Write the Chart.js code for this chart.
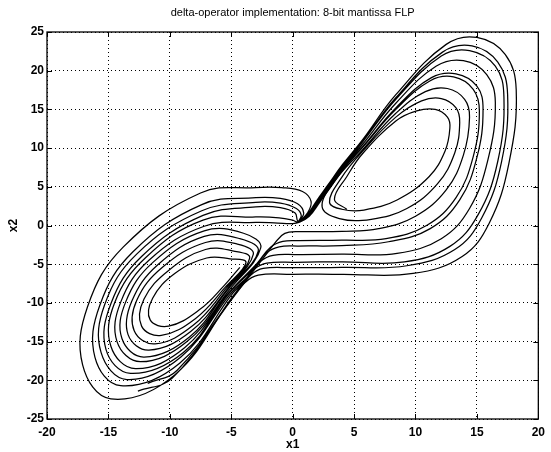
<!DOCTYPE html>
<html><head><meta charset="utf-8">
<script src="https://cdn.jsdelivr.net/npm/chart.js@4"></script>
<style>html,body{margin:0;padding:0;background:#fff;}canvas{display:block;}</style>
</head><body>
<canvas id="c" width="551" height="452"></canvas>
<script>
// ---- tick labels ----
const xTickValues = [-20,-15,-10,-5,0,5,10,15,20];
const yTickValues = [-25,-20,-15,-10,-5,0,5,10,15,20,25];
const titleText = 'delta-operator implementation: 8-bit mantissa FLP';
const xLabel = 'x1', yLabel = 'x2';

// ---- left wing, inner loops (tip, lower-right side, bottom, left side, top) ----
const leftLoop0 = [[-4.3,-5.4],[-5.6,-7.8],[-7.6,-10.9],[-10.1,-13.0],[-11.6,-12.2],[-11.4,-9.4],[-9.6,-6.2],[-7.0,-4.2],[-5.1,-4.3]];
const leftLoop1 = [[-3.8,-4.8],[-5.5,-8.0],[-7.9,-12.0],[-10.7,-14.2],[-12.3,-13.0],[-12.1,-9.5],[-10.1,-5.8],[-7.1,-3.1],[-4.8,-3.3]];
const leftLoop2 = [[-3.5,-4.2],[-5.4,-8.1],[-8.1,-12.9],[-11.2,-15.3],[-12.9,-13.6],[-12.7,-9.7],[-10.6,-5.4],[-7.1,-2.2],[-4.5,-2.4]];
const leftLoop3 = [[-3.2,-3.7],[-5.3,-8.2],[-8.3,-13.7],[-11.7,-16.1],[-13.4,-14.1],[-13.1,-9.8],[-11.0,-5.1],[-7.2,-1.4],[-4.3,-1.7]];
const leftLoop4 = [[-2.8,-3.3],[-5.3,-8.3],[-8.4,-14.4],[-12.1,-17.0],[-13.9,-14.6],[-13.6,-9.9],[-11.4,-4.8],[-7.2,-0.7],[-4.0,-1.0]];
// ---- left wing, outer loops that leave for the right wing ----
const leftHalf5  = [[-2.6,-2.9],[-5.2,-8.4],[-8.6,-15.0],[-12.4,-17.6],[-14.3,-15.0],[-14.0,-9.9],[-11.7,-4.5],[-7.2,-0.1]];
const leftHalf6  = [[-5.1,-8.5],[-8.8,-15.8],[-12.8,-18.5],[-14.8,-15.6],[-14.5,-10.0],[-12.0,-4.2],[-7.3,0.7]];
const leftHalf7  = [[-5.1,-8.6],[-8.9,-16.4],[-13.2,-19.1],[-15.2,-16.0],[-14.8,-10.1],[-12.3,-4.0],[-7.3,1.3]];
const leftHalf8  = [[-5.0,-8.7],[-9.1,-17.0],[-13.5,-19.9],[-15.6,-16.4],[-15.3,-10.2],[-12.7,-3.7],[-7.4,1.9]];
const leftHalf9  = [[-4.9,-8.8],[-9.2,-17.8],[-14.0,-20.7],[-16.1,-17.0],[-15.7,-10.3],[-13.0,-3.4],[-7.4,2.7]];
const leftHalf10 = [[-4.8,-9.0],[-9.6,-19.3],[-14.8,-22.4],[-17.1,-18.0],[-16.7,-10.5],[-13.8,-2.8],[-7.5,4.2]];
// ---- crossings left -> right through the tongue near the origin ----
const crossUp5  = [[-3.0,0.4],[-1.2,0.3],[0.0,0.25],[0.5,0.4],[1.35,1.2],[2.2,3.0],[3.15,5.1],[4.3,7.6]];
const crossUp6  = [[-3.0,1.1],[-1.1,1.0],[0.0,0.7],[0.45,0.45],[1.3,1.2],[2.15,3.05],[3.1,5.15],[4.25,7.65]];
const crossUp7  = [[-3.0,2.4],[-1.0,2.3],[0.2,1.6],[0.45,0.55],[1.3,1.25],[2.1,3.1],[3.05,5.2],[4.2,7.7]];
const crossUp8  = [[-3.0,3.0],[-1.0,2.9],[0.3,2.2],[0.7,1.3],[0.5,0.5],[1.25,1.25],[2.05,3.1],[3.0,5.2],[4.15,7.75]];
const crossUp9  = [[-3.0,3.6],[-1.0,3.5],[0.4,2.8],[0.9,1.6],[0.55,0.55],[1.2,1.3],[2.0,3.15],[2.95,5.25],[4.1,7.8]];
const crossUp10 = [[-3.0,4.9],[-0.9,4.9],[0.8,4.4],[1.5,3.1],[1.2,1.6],[0.6,0.6],[1.15,1.3],[1.95,3.2],[2.9,5.3],[4.05,7.85]];
// ---- right wing loops (upper-left band, top, right side, bottom) ----
const rightLoop0 = [[5.7,9.3],[8.4,13.5],[10.1,14.8],[11.6,15.0],[12.6,14.0],[12.8,12.6],[12.4,9.6],[11.1,6.3],[8.5,3.3],[5.8,2.0]];
const rightLoop1 = [[5.7,9.6],[8.4,14.0],[10.5,16.1],[12.1,16.4],[13.3,15.2],[13.6,13.3],[13.2,9.4],[11.8,5.4],[9.3,2.2],[6.4,0.8]];
const rightLoop2 = [[5.7,9.8],[8.4,14.5],[10.8,17.3],[12.6,17.7],[14.0,16.3],[14.4,14.0],[13.9,9.1],[12.5,4.6],[10.0,1.2],[7.0,-0.4]];
const rightLoop3 = [[5.7,10.1],[8.4,15.0],[11.2,18.7],[13.1,19.2],[14.7,17.6],[15.2,14.8],[14.7,8.9],[13.3,3.6],[10.9,0.0],[7.6,-1.7]];
const rightLoop4 = [[5.7,10.2],[8.4,15.2],[11.3,19.1],[13.3,19.6],[15.0,18.0],[15.5,15.0],[15.0,8.8],[13.6,3.3],[11.2,-0.4],[7.8,-2.1]];
const rightLoop5 = [[5.7,10.5],[8.4,15.8],[11.7,20.6],[13.9,21.3],[15.8,19.5],[16.5,15.9],[15.9,8.5],[14.4,2.2],[12.1,-1.7],[8.5,-3.6]];
const rightLoop6 = [[5.7,10.8],[8.4,16.3],[12.1,21.9],[14.4,22.6],[16.5,20.6],[17.2,16.6],[16.7,8.3],[15.1,1.4],[12.8,-2.7],[9.1,-4.7]];
const rightLoop7 = [[5.7,10.9],[8.4,16.5],[12.2,22.4],[14.6,23.2],[16.7,21.1],[17.5,16.9],[17.0,8.2],[15.4,1.0],[13.2,-3.1],[9.3,-5.2]];
const rightLoop8 = [[5.7,11.1],[8.4,16.9],[12.5,23.4],[15.0,24.3],[17.3,22.1],[18.2,17.5],[17.6,8.0],[16.0,0.3],[13.8,-4.0],[9.8,-6.2]];
// ---- right wing turns that stay on the right ----
const rightStart = [[4.4,2.1],[3.4,3.4],[4.4,6.3]];
const rightTurn0 = [[4.0,2.1],[3.0,3.0],[3.9,6.0]];
const rightTurn1 = [[3.8,0.9],[2.4,2.4],[3.4,5.7]];
// ---- crossings right -> left along the bottom ----
const exitDown2 = [[4.0,-0.75],[0.8,-0.8],[-0.3,-0.85],[-0.9,-1.3],[-2.0,-3.4],[-4.7,-9.0],[-9.4,-18.7],[-11.8,-20.4]];
const exitDown3 = [[4.0,-1.9],[0.5,-1.95],[-0.8,-2.05],[-1.8,-2.8],[-2.9,-4.9]];
const exitDown4 = [[4.0,-2.6],[0.5,-2.65],[-1.1,-2.75],[-2.1,-3.5],[-3.2,-5.6]];
const exitDown5 = [[4.0,-3.7],[0.3,-3.75],[-1.6,-3.85],[-2.6,-4.6],[-3.6,-6.5]];
const exitDown6 = [[4.0,-4.7],[0.2,-4.75],[-2.1,-4.85],[-3.1,-5.6],[-4.0,-7.3]];
const exitDown7 = [[4.0,-5.4],[0.0,-5.45],[-2.4,-5.55],[-3.4,-6.4]];
const exitDown8 = [[4.0,-6.3],[0.0,-6.3],[-2.8,-6.4],[-3.9,-7.4],[-5.3,-10.2],[-9.8,-19.7],[-12.6,-21.4]];

const pathA = [].concat(leftLoop0,leftLoop1,leftLoop2,leftLoop3,leftLoop4,
  leftHalf5,crossUp5,rightLoop3,exitDown3,
  leftHalf6,crossUp6,rightLoop4,exitDown4,
  leftHalf7,crossUp7,rightLoop5,exitDown5,
  leftHalf8,crossUp8,rightLoop6,exitDown6,
  leftHalf9,crossUp9,rightLoop7,exitDown7,
  leftHalf10,crossUp10,rightLoop8,exitDown8);
const pathB = [].concat(rightStart,rightLoop0,rightTurn0,rightLoop1,rightTurn1,rightLoop2,exitDown2);

const toXY = a => a.map(p => ({x:p[0], y:p[1]}));
const lineDs = d => ({data: toXY(d), showLine:true, borderColor:'#000', borderWidth:1.25,
  pointRadius:0, tension:0.4, fill:false});

const FONT = '"Liberation Sans", Arial, Helvetica, sans-serif';

const framePlugin = {
  id:'frame',
  afterDraw(chart){
    const ctx = chart.ctx, a = chart.chartArea;
    const xs = chart.scales.x, ys = chart.scales.y;
    ctx.save();
    ctx.strokeStyle = '#000'; ctx.lineWidth = 1.3; ctx.setLineDash([]);
    ctx.strokeRect(a.left, a.top, a.right - a.left, a.bottom - a.top);
    ctx.lineWidth = 1;
    ctx.beginPath();
    xTickValues.forEach(v => { const px = Math.round(xs.getPixelForValue(v)) + 0.5;
      ctx.moveTo(px, a.bottom); ctx.lineTo(px, a.bottom - 5);
      ctx.moveTo(px, a.top); ctx.lineTo(px, a.top + 5); });
    yTickValues.forEach(v => { const py = Math.round(ys.getPixelForValue(v)) + 0.5;
      ctx.moveTo(a.left, py); ctx.lineTo(a.left + 5, py);
      ctx.moveTo(a.right, py); ctx.lineTo(a.right - 5, py); });
    ctx.stroke();
    ctx.fillStyle = '#000';
    ctx.textAlign = 'center'; ctx.textBaseline = 'middle';
    ctx.font = '11px ' + FONT;
    ctx.fillText(titleText, (a.left + a.right) / 2, 13);
    ctx.font = 'bold 12px ' + FONT;
    ctx.fillText(xLabel, (a.left + a.right) / 2, 445);
    ctx.translate(14, (a.top + a.bottom) / 2);
    ctx.rotate(-Math.PI / 2);
    ctx.fillText(yLabel, 0, 0);
    ctx.restore();
  }
};

new Chart(document.getElementById('c'), {
  type:'scatter',
  data:{datasets:[lineDs(pathA), lineDs(pathB)]},
  options:{
    responsive:false, animation:false, events:[],
    layout:{padding:{top:32, right:12, left:0, bottom:0}},
    plugins:{legend:{display:false}, tooltip:{enabled:false}, title:{display:false}},
    scales:{
      x:{type:'linear', min:-20, max:20,
        afterBuildTicks: s => { s.ticks = xTickValues.map(v => ({value:v})); },
        afterFit: s => { s.height = 33; },
        grid:{color:'#000', lineWidth:1, drawTicks:false},
        border:{display:false, dash:[1,3]},
        ticks:{padding:6, color:'#000', font:{family:FONT, size:12, weight:'bold'}, maxRotation:0, autoSkip:false}},
      y:{type:'linear', min:-25, max:25,
        afterBuildTicks: s => { s.ticks = yTickValues.map(v => ({value:v})); },
        afterFit: s => { s.width = 47; },
        grid:{color:'#000', lineWidth:1, drawTicks:false},
        border:{display:false, dash:[1,3]},
        ticks:{padding:3, color:'#000', font:{family:FONT, size:12, weight:'bold'}, autoSkip:false}}
    }
  },
  plugins:[framePlugin]
});
</script>
</body></html>
